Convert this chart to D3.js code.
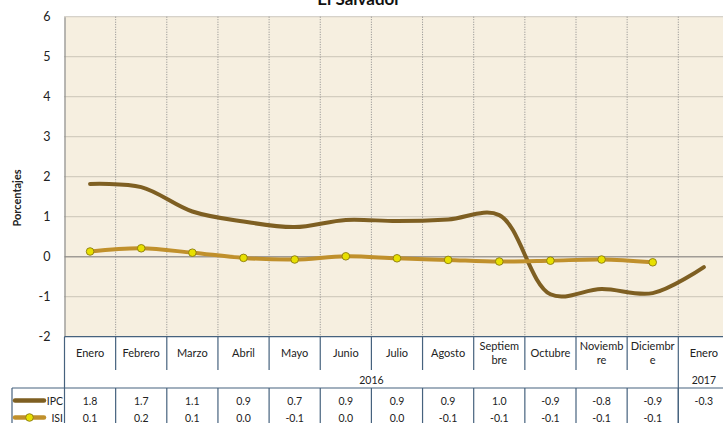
<!DOCTYPE html>
<html>
<head>
<meta charset="utf-8">
<script src="https://cdn.jsdelivr.net/npm/d3@7"></script>
<style>
  body { margin: 0; background: #fff; }
  text { font-family: Lato, "Open Sans", sans-serif; }
</style>
</head>
<body>
<div id="chart"></div>
<script>
// data
var months = ["Enero", "Febrero", "Marzo", "Abril", "Mayo", "Junio", "Julio", "Agosto",
  "Septiem|bre", "Octubre", "Noviemb|re", "Diciembr|e", "Enero"];
var years = [{label: "2016", from: 0, to: 11}, {label: "2017", from: 12, to: 12}];
var ipc = [1.82, 1.74, 1.13, 0.88, 0.74, 0.92, 0.89, 0.93, 1.04, -0.94, -0.81, -0.91, -0.26];
var isi = [0.13, 0.21, 0.10, -0.03, -0.07, 0.01, -0.04, -0.08, -0.12, -0.10, -0.07, -0.14, null];
var yTicks = [-2, -1, 0, 1, 2, 3, 4, 5, 6];

var svgWidth = 723;
var svgHeight = 423;

var plot = {left: 64.5, top: 16.7, bottom: 336.7, colW: 51.15};

var svg = d3.select("#chart")
  .append("svg")
  .attr("width", svgWidth)
  .attr("height", svgHeight);

var x = d3.scaleBand()
  .domain(d3.range(months.length))
  .range([plot.left, plot.left + plot.colW * months.length]);

var y = d3.scaleLinear()
  .domain([-2, 6])
  .range([plot.bottom, plot.top]);

// plot background
svg.append("rect")
  .attr("x", plot.left)
  .attr("y", plot.top)
  .attr("width", x.range()[1] - plot.left)
  .attr("height", plot.bottom - plot.top)
  .attr("fill", "#f6efe0");

// horizontal grid
svg.append("g")
  .selectAll("line")
  .data(yTicks.filter(d => d !== 0 && d !== -2))
  .enter()
  .append("line")
  .attr("x1", plot.left)
  .attr("x2", x.range()[1])
  .attr("y1", d => y(d))
  .attr("y2", d => y(d))
  .attr("stroke", "#b0aa9e")
  .attr("stroke-width", 1.3)
  .attr("stroke-dasharray", "1,1");

// vertical grid
svg.append("g")
  .selectAll("line")
  .data(d3.range(1, months.length))
  .enter()
  .append("line")
  .attr("x1", d => x(d))
  .attr("x2", d => x(d))
  .attr("y1", plot.top)
  .attr("y2", plot.bottom)
  .attr("stroke", "#8a8a8a")
  .attr("stroke-width", 1)
  .attr("stroke-dasharray", "1,1.5");

// zero line
svg.append("line")
  .attr("x1", plot.left)
  .attr("x2", x.range()[1])
  .attr("y1", y(0))
  .attr("y2", y(0))
  .attr("stroke", "#a09c96")
  .attr("stroke-width", 1.6);

// y axis
var leftAxis = d3.axisLeft(y)
  .tickValues(yTicks)
  .tickFormat(d => String(d))
  .tickSize(0)
  .tickPadding(14);
var yAxis = svg.append("g")
  .attr("transform", `translate(${plot.left}, 0)`)
  .call(leftAxis);
yAxis.select(".domain").attr("stroke", "#8c8c8c").attr("stroke-width", 1.2);
yAxis.selectAll("text")
  .attr("font-size", 12.5)
  .attr("fill", "#222")
  .style("font-family", "Lato, 'Open Sans', sans-serif");

svg.append("text")
  .attr("transform", "translate(21, 198) rotate(-90)")
  .attr("text-anchor", "middle")
  .attr("font-size", 11)
  .attr("font-weight", "bold")
  .attr("fill", "#222")
  .text("Porcentajes");

// title (mostly cut off at the top, as in the original)
svg.append("text")
  .attr("x", 359)
  .attr("y", 4.5)
  .attr("text-anchor", "middle")
  .attr("font-size", 17)
  .attr("font-weight", "bold")
  .attr("fill", "#111")
  .text("El Salvador");

// lines
var cx = i => x(i) + x.bandwidth() / 2;
var lineGen = d3.line()
  .defined(d => d != null)
  .x((d, i) => cx(i))
  .y(d => y(d))
  .curve(d3.curveCatmullRom.alpha(0.5));

svg.append("path")
  .attr("d", lineGen(ipc))
  .attr("fill", "none")
  .attr("stroke", "#7e5f22")
  .attr("stroke-width", 4)
  .attr("stroke-linecap", "round");

svg.append("path")
  .attr("d", lineGen(isi))
  .attr("fill", "none")
  .attr("stroke", "#c0902c")
  .attr("stroke-width", 4)
  .attr("stroke-linecap", "round");

svg.append("g")
  .selectAll("circle")
  .data(isi.map((v, i) => ({v: v, i: i})).filter(d => d.v != null))
  .enter()
  .append("circle")
  .attr("cx", d => cx(d.i))
  .attr("cy", d => y(d.v))
  .attr("r", 3.8)
  .attr("fill", "#e8e000")
  .attr("stroke", "#8a7a10")
  .attr("stroke-width", 0.9);

// data table
var tableColor = "#46627e";
var rowMonthBottom = 370;
var rowYearBottom = 388;
var tableBottom = 430;
var legendLeft = 12;
var tbl = svg.append("g");

// month separators
tbl.selectAll(".msep")
  .data(d3.range(1, months.length))
  .enter()
  .append("line")
  .attr("x1", d => x(d))
  .attr("x2", d => x(d))
  .attr("y1", plot.bottom)
  .attr("y2", d => (d === 12 ? tableBottom : rowMonthBottom))
  .attr("stroke", tableColor)
  .attr("stroke-width", 1.2);

tbl.selectAll(".dsep")
  .data(d3.range(1, months.length))
  .enter()
  .append("line")
  .attr("x1", d => x(d))
  .attr("x2", d => x(d))
  .attr("y1", rowYearBottom)
  .attr("y2", tableBottom)
  .attr("stroke", tableColor)
  .attr("stroke-width", 1.2);

tbl.append("line")
  .attr("x1", plot.left).attr("x2", plot.left)
  .attr("y1", plot.bottom).attr("y2", tableBottom)
  .attr("stroke", tableColor).attr("stroke-width", 1.2);

tbl.append("line")
  .attr("x1", plot.left).attr("x2", x.range()[1])
  .attr("y1", plot.bottom).attr("y2", plot.bottom)
  .attr("stroke", tableColor).attr("stroke-width", 1.2);

tbl.append("line")
  .attr("x1", legendLeft).attr("x2", x.range()[1])
  .attr("y1", rowYearBottom).attr("y2", rowYearBottom)
  .attr("stroke", tableColor).attr("stroke-width", 1.2);

tbl.append("line")
  .attr("x1", legendLeft).attr("x2", legendLeft)
  .attr("y1", rowYearBottom).attr("y2", tableBottom)
  .attr("stroke", tableColor).attr("stroke-width", 1.2);

// month labels
months.forEach(function(m, i) {
  var parts = m.split("|");
  var t = tbl.append("text")
    .attr("x", cx(i))
    .attr("text-anchor", "middle")
    .attr("font-size", 11)
    .attr("fill", "#222");
  if (parts.length === 1) {
    t.attr("y", 357).text(parts[0]);
  } else {
    t.append("tspan").attr("x", cx(i)).attr("y", 350).text(parts[0]);
    t.append("tspan").attr("x", cx(i)).attr("y", 364).text(parts[1]);
  }
});

// year labels
tbl.selectAll(".year")
  .data(years)
  .enter()
  .append("text")
  .attr("x", d => (x(d.from) + x(d.to) + x.bandwidth()) / 2)
  .attr("y", 383.5)
  .attr("text-anchor", "middle")
  .attr("font-size", 10.5)
  .attr("fill", "#222")
  .text(d => d.label);

var fmt = v => (Math.round(v * 10) / 10 + 0).toFixed(1);

[{name: "IPC", values: ipc, yy: 404.5}, {name: "ISI", values: isi, yy: 421.5}].forEach(function(s) {
  tbl.selectAll(".v" + s.name)
    .data(s.values.map((v, i) => ({v: v, i: i})).filter(d => d.v != null))
    .enter()
    .append("text")
    .attr("x", d => cx(d.i))
    .attr("y", s.yy)
    .attr("text-anchor", "middle")
    .attr("font-size", 10.5)
    .attr("fill", "#222")
    .text(d => fmt(d.v));
  tbl.append("text")
    .attr("x", 63)
    .attr("y", s.yy)
    .attr("text-anchor", "end")
    .attr("font-size", 10.5)
    .attr("fill", "#222")
    .text(s.name);
});

// legend swatches
tbl.append("line")
  .attr("x1", 15).attr("x2", 44).attr("y1", 400.5).attr("y2", 400.5)
  .attr("stroke", "#7e5f22").attr("stroke-width", 4.5).attr("stroke-linecap", "round");
tbl.append("line")
  .attr("x1", 15).attr("x2", 44).attr("y1", 417.5).attr("y2", 417.5)
  .attr("stroke", "#c0902c").attr("stroke-width", 4.5).attr("stroke-linecap", "round");
tbl.append("circle")
  .attr("cx", 29.5).attr("cy", 417.5).attr("r", 3.8)
  .attr("fill", "#e8e000").attr("stroke", "#8a7a10").attr("stroke-width", 0.9);
</script>
</body>
</html>
